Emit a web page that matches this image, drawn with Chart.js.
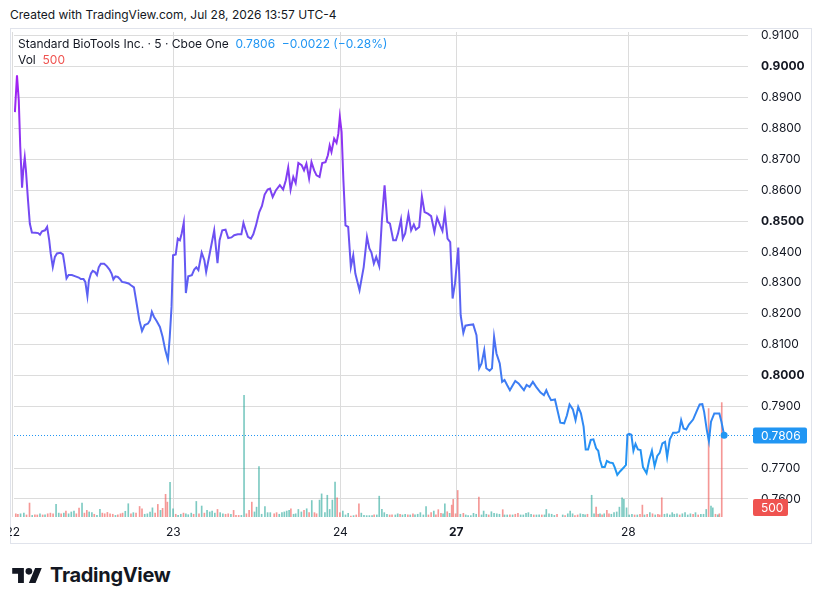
<!DOCTYPE html>
<html>
<head>
<meta charset="utf-8">
<title>Standard BioTools Inc. · 5 · Cboe One</title>
<script src="https://cdn.jsdelivr.net/npm/chart.js@4.4.1/dist/chart.umd.min.js"></script>
<style>
  html, body { margin: 0; padding: 0; background: #ffffff; }
  body { width: 822px; height: 604px; position: relative; overflow: hidden;
         font-family: Inter, "Noto Sans", Roboto, sans-serif; color: #131722; }
  #created { position: absolute; left: 10px; top: 7px; font-size: 12px; white-space: nowrap; }
  #frame { position: absolute; left: 10px; top: 28px; width: 800px; height: 514px; border: 1px solid #e0e3eb; }
  #myChart { position: absolute; left: 10px; top: 28px; }
  .legend { position: absolute; left: 18px; font-size: 12px; white-space: nowrap; }
  #legendTitle { top: 36px; }
  #legendVol { top: 52px; }
  .blue { color: #2196f3; }
  .red { color: #ef5350; }
  #footer { position: absolute; left: 12px; top: 563px; height: 24px; display: flex; align-items: center; }
  #footer span { font-weight: 700; font-size: 20px; margin-left: 8px; letter-spacing: -0.3px; color: #131722; }
</style>
</head>
<body>
<div id="created">Created with TradingView.com, Jul 28, 2026 13:57 UTC-4</div>
<div id="frame"></div>
<canvas id="myChart" width="802" height="517"></canvas>
<div class="legend" id="legendTitle">Standard BioTools Inc. · 5 · Cboe One&nbsp; <span class="blue">0.7806&nbsp; −0.0022 (−0.28%)</span></div>
<div class="legend" id="legendVol">Vol&nbsp; <span class="red">500</span></div>
<div id="footer">
  <svg width="30" height="15" viewBox="0 4 35.5 18"><path d="M14 22H7V11H0V4h14v18zM28 22h-8l7.5-18h8L28 22z" fill="#131722"/><circle cx="20" cy="8" r="4" fill="#131722"/></svg>
  <span>TradingView</span>
</div>
<script>
// day separators on the time axis (bar position) and their labels
const dayTicks = [-0.4, 53.4, 109.4, 148.2, 205.9];
const dayLabels = ['22', '23', '24', '27', '28'];
const priceTicks = [0.76, 0.77, 0.78, 0.79, 0.80, 0.81, 0.82, 0.83, 0.84, 0.85, 0.86, 0.87, 0.88, 0.89, 0.90, 0.91];

const lastPrice = 0.7806;
const lastVolume = 500;

// price line (bar position, price)
const priceX = [0.3,1.0,1.6,2.1,2.7,3.1,3.6,4.0,4.7,5.3,
  6.0,7.2,8.1,8.7,9.4,10.4,11.1,11.8,12.3,13.0,
  13.7,14.4,15.6,16.4,16.9,17.6,18.3,19.4,20.6,21.7,
  22.4,23.3,23.9,24.6,25.1,25.8,26.4,27.1,27.8,28.4,
  29.1,30.2,31.1,32.0,32.7,33.3,34.0,34.8,35.6,36.2,
  37.3,38.4,39.2,40.2,41.1,42.0,42.9,43.8,44.9,45.6,
  46.2,46.9,47.8,48.9,49.8,50.7,51.6,52.2,52.8,53.3,
  54.2,54.9,55.6,56.2,56.9,57.6,58.4,59.6,60.4,61.1,
  61.8,62.9,63.8,64.4,65.6,67.1,68.2,68.9,69.8,70.9,
  71.8,72.9,73.8,75.0,76.2,76.9,77.6,78.4,79.4,80.2,
  81.1,82.2,83.1,84.0,85.0,85.8,86.7,87.8,89.1,90.2,
  91.1,91.9,92.7,93.6,94.4,95.3,96.4,97.2,98.0,98.9,
  99.7,100.6,101.4,102.4,103.3,104.4,105.2,105.8,106.4,107.3,
  108.1,108.7,109.2,109.8,110.4,111.1,112.0,112.9,113.7,114.4,
  115.8,117.2,118.3,119.1,119.8,120.6,121.4,122.4,123.3,124.2,
  125.1,126.0,127.1,128.0,128.7,129.7,130.3,131.1,132.2,133.1,
  134.0,134.7,135.8,136.7,137.6,138.7,139.8,140.9,141.8,142.8,
  143.6,144.4,145.3,146.2,147.0,147.8,148.9,149.7,150.6,151.3,
  152.4,153.9,155.0,155.9,156.7,157.6,158.3,159.4,160.2,160.9,
  161.7,162.8,163.6,164.4,165.3,166.2,167.2,168.0,169.1,170.0,
  170.9,171.8,172.8,173.9,175.0,176.4,177.6,178.4,179.1,180.0,
  181.3,183.1,184.4,185.3,186.2,187.3,188.2,189.1,190.0,190.9,
  191.6,192.4,193.3,194.2,195.1,195.8,196.4,197.1,198.0,198.7,
  199.6,200.7,201.3,202.2,203.1,204.2,205.1,205.6,206.2,206.9,
  207.6,208.3,209.1,210.0,210.8,212.0,212.9,213.8,214.7,215.6,
  216.4,217.3,218.2,218.9,219.8,220.9,222.0,222.9,223.6,224.4,
  225.3,226.2,227.6,228.7,229.8,230.7,231.3,232.2,232.9,233.6,
  234.7,236.4,237.1,238.0];

const prices = [0.8853,0.8972,0.8891,0.8740,0.8608,0.8664,0.8706,0.8664,0.8567,0.8492,
  0.8463,0.8462,0.8461,0.8456,0.8467,0.8470,0.8481,0.8438,0.8395,0.8351,
  0.8384,0.8395,0.8397,0.8392,0.8362,0.8314,0.8325,0.8325,0.8321,0.8317,
  0.8312,0.8312,0.8303,0.8257,0.8308,0.8330,0.8339,0.8335,0.8325,0.8350,
  0.8362,0.8362,0.8354,0.8343,0.8330,0.8311,0.8321,0.8319,0.8311,0.8303,
  0.8301,0.8298,0.8292,0.8285,0.8233,0.8179,0.8144,0.8163,0.8168,0.8179,
  0.8206,0.8190,0.8176,0.8157,0.8125,0.8082,0.8050,0.8125,0.8222,0.8389,
  0.8392,0.8443,0.8438,0.8460,0.8495,0.8267,0.8321,0.8325,0.8343,0.8350,
  0.8341,0.8398,0.8373,0.8335,0.8395,0.8470,0.8364,0.8438,0.8470,0.8472,
  0.8445,0.8447,0.8454,0.8457,0.8457,0.8494,0.8472,0.8449,0.8443,0.8457,
  0.8486,0.8529,0.8549,0.8586,0.8602,0.8605,0.8578,0.8600,0.8616,0.8602,
  0.8632,0.8673,0.8602,0.8643,0.8623,0.8688,0.8681,0.8664,0.8686,0.8638,
  0.8691,0.8664,0.8648,0.8643,0.8688,0.8691,0.8713,0.8745,0.8724,0.8767,
  0.8753,0.8783,0.8837,0.8788,0.8632,0.8486,0.8481,0.8351,0.8389,0.8330,
  0.8276,0.8351,0.8449,0.8411,0.8398,0.8362,0.8384,0.8354,0.8503,0.8616,
  0.8497,0.8492,0.8438,0.8438,0.8460,0.8505,0.8443,0.8460,0.8522,0.8470,
  0.8489,0.8472,0.8481,0.8580,0.8529,0.8524,0.8516,0.8465,0.8511,0.8486,
  0.8468,0.8526,0.8443,0.8432,0.8249,0.8298,0.8414,0.8195,0.8138,0.8161,
  0.8163,0.8165,0.8130,0.8023,0.8039,0.8082,0.8023,0.8015,0.8023,0.8125,
  0.8071,0.8039,0.7979,0.7985,0.7968,0.7952,0.7969,0.7982,0.7974,0.7963,
  0.7952,0.7969,0.7963,0.7979,0.7963,0.7945,0.7936,0.7952,0.7936,0.7920,
  0.7922,0.7847,0.7845,0.7870,0.7906,0.7890,0.7855,0.7898,0.7877,0.7834,
  0.7760,0.7760,0.7791,0.7793,0.7764,0.7756,0.7726,0.7703,0.7703,0.7723,
  0.7718,0.7716,0.7703,0.7678,0.7689,0.7700,0.7710,0.7808,0.7811,0.7808,
  0.7756,0.7778,0.7760,0.7758,0.7703,0.7683,0.7726,0.7756,0.7706,0.7739,
  0.7749,0.7780,0.7785,0.7735,0.7793,0.7814,0.7814,0.7818,0.7855,0.7828,
  0.7825,0.7841,0.7857,0.7882,0.7906,0.7907,0.7882,0.7823,0.7787,0.7850,
  0.7877,0.7877,0.7850,0.7806];

// volume bars (bar position, shares, t = up / r = down)
const volX = [0.6,1.3,2.2,3.3,4.2,5.2,6.1,7.0,7.8,8.7,
  9.6,10.4,11.3,12.2,13.1,14.1,15.0,15.8,16.7,17.4,
  18.3,19.2,20.1,20.9,21.8,22.8,23.6,24.4,25.2,26.1,
  26.9,27.8,28.8,29.6,30.4,31.3,32.2,33.1,34.0,34.8,
  35.7,36.4,37.3,38.3,39.2,40.0,40.9,42.1,42.9,43.8,
  44.7,45.6,46.4,47.3,48.2,49.1,49.8,50.8,51.4,52.3,
  53.3,54.2,55.0,55.9,56.8,57.6,58.4,59.4,60.2,61.1,
  62.0,62.9,63.8,64.7,65.6,66.4,67.3,68.2,69.1,70.0,
  70.9,71.8,72.7,73.6,74.4,75.3,76.2,77.1,77.9,78.8,
  79.7,80.6,81.3,82.1,83.0,84.1,85.0,85.9,
  87.2,88.0,88.9,89.8,90.6,91.4,92.2,92.8,93.7,94.4,95.3,96.3,
  97.2,98.1,98.9,99.8,100.7,101.4,102.4,103.1,104.2,105.0,
  105.8,106.7,107.6,108.3,109.2,110.2,111.1,112.0,112.9,113.8,
  114.7,115.6,116.4,117.3,118.2,119.1,120.0,120.7,121.6,122.4,
  123.3,124.1,125.0,125.9,126.7,127.8,128.6,129.4,130.2,131.1,
  132.0,132.8,133.7,134.4,135.3,136.2,137.2,138.1,138.9,139.8,
  140.7,141.4,142.2,143.1,143.8,144.4,145.2,146.0,146.7,147.2,
  148.0,148.7,149.6,150.6,151.4,152.2,153.1,154.0,154.9,155.8,
  156.7,157.4,158.3,159.1,160.0,160.9,161.8,162.7,163.8,164.4,
  165.3,166.2,167.1,168.0,168.9,169.8,170.7,171.6,172.4,173.3,
  174.2,175.1,176.0,176.9,177.8,178.4,179.3,180.2,181.1,182.0,
  183.9,184.7,185.6,186.4,187.2,188.0,188.9,189.8,190.7,191.4,
  192.2,193.6,194.4,195.1,195.8,196.4,197.1,197.8,198.7,199.4,
  200.2,201.1,202.0,202.9,203.8,204.4,205.3,206.2,207.1,208.0,
  208.9,209.8,210.6,211.3,212.2,213.1,214.0,214.9,215.8,216.4,
  217.1,218.0,218.9,219.8,220.6,221.3,222.2,223.1,224.0,224.9,
  225.8,226.7,227.6,228.4,229.3,230.2,231.1,232.0,232.8,233.6,
  234.2,235.1,235.9,236.4,237.2];

const volumes = [14,12,14,17,9,61,7,9,9,14,
  9,9,14,17,14,55,17,14,17,26,
  14,22,26,14,39,61,17,29,22,19,
  12,7,33,17,14,20,14,12,7,9,
  14,17,25,58,14,19,17,46,36,12,
  14,22,40,17,55,29,38,99,65,152,
  36,12,7,12,17,14,10,17,12,68,
  14,48,17,29,22,26,17,33,19,14,
  12,14,12,29,7,7,7,532,14,29,
  65,22,43,220,12,46,19,19,
  14,19,12,19,22,26,29,36,12,14,33,22,
  29,36,19,72,19,14,74,101,19,95,
  33,74,153,84,19,26,9,16,4,6,
  9,58,17,7,6,6,6,9,9,91,
  33,19,12,9,9,9,14,12,9,12,
  9,9,14,9,12,19,9,46,9,19,
  26,9,32,16,14,58,23,16,52,77,
  14,116,12,16,9,6,6,16,12,87,
  9,26,12,9,23,16,14,12,32,9,
  9,9,9,12,16,9,9,16,19,12,
  9,9,9,9,9,33,14,12,7,12,
  9,6,14,26,14,6,9,14,12,9,
  12,95,14,43,12,14,9,14,29,14,
  12,19,22,43,84,77,40,9,12,9,
  9,12,52,9,12,19,14,9,12,9,
  84,12,14,9,19,12,14,9,14,19,
  9,14,12,19,9,12,12,33,474,48,
  40,12,9,14,500];

const volDir = 'rrttrrtrrt' + 'rtrrrttrtr' + 'tttrrtrrtt' + 'rttrrrrrtr' + 'rrttrtrrrt' +
  'tttrrtrrrt' + 'trttrtttrt' + 'rtrttttrtt' + 'rrtrrrttrr' + 'rttttttt' +
  'rrtttttrtttt' + 'rtrtrrtttt' + 'tttrrtttrt' + 'rrtttttrtt' + 'tttrrttrtt' +
  'rtrtttttrr' + 'trrrttrtrr' + 'rrtrtttttr' + 'tttrttttrt' + 'trtrrttttt' +
  'rttrtttttr' + 'trtttrrttt' + 'rttrrtrtrr' + 'tttttttttr' + 'trrtrtrtrr' +
  'rttttttrtt' + 'ttrtrtttrt' + 'trtrr';

const upColor = 'rgba(38, 166, 154, 0.6)';
const downColor = 'rgba(239, 83, 80, 0.6)';
const gridColor = '#dcdcdc';
const textColor = '#131722';

Chart.defaults.font.family = 'Inter, "Noto Sans", sans-serif';
Chart.defaults.font.size = 12;

function lineGradient(context) {
    const chart = context.chart;
    if (!chart.chartArea) return '#7b45f0';
    const y = chart.scales.y;
    const g = chart.ctx.createLinearGradient(0, y.getPixelForValue(0.90), 0, y.getPixelForValue(0.77));
    g.addColorStop(0, '#a61df2');
    g.addColorStop(1, '#2196f3');
    return g;
}

function fillRound(ctx, x, y, w, h, r, color) {
    ctx.beginPath();
    ctx.roundRect(x, y, w, h, r);
    ctx.fillStyle = color;
    ctx.fill();
}

const priceLinePlugin = {
    id: 'priceLine',
    beforeDatasetsDraw(chart) {
        const { ctx, chartArea, scales } = chart;
        const yy = Math.round(scales.y.getPixelForValue(lastPrice)) + 0.5;
        ctx.save();
        ctx.strokeStyle = '#2196f3';
        ctx.lineWidth = 1;
        ctx.setLineDash([1, 2]);
        ctx.beginPath();
        ctx.moveTo(chartArea.left, yy);
        ctx.lineTo(chartArea.right + 5, yy);
        ctx.stroke();
        ctx.restore();
    },
    afterDraw(chart) {
        const { ctx, chartArea, scales } = chart;
        const yy = Math.round(scales.y.getPixelForValue(lastPrice)) + 0.5;
        const x0 = chartArea.right + 5;
        ctx.save();
        ctx.font = '12px Inter, "Noto Sans", sans-serif';
        ctx.textBaseline = 'middle';
        ctx.textAlign = 'left';
        fillRound(ctx, x0, yy - 8, 54, 16, 2, '#2196f3');
        ctx.fillStyle = '#ffffff';
        ctx.fillText(lastPrice.toFixed(4), chartArea.right + 13, yy + 0.5);
        const vb = chartArea.bottom;
        fillRound(ctx, x0, vb - 18, 35, 17, 2, '#ef5350');
        ctx.fillStyle = '#ffffff';
        ctx.fillText(String(lastVolume), chartArea.right + 13, vb - 9);
        ctx.restore();
    }
};

const canvas = document.getElementById('myChart');
const myChart = new Chart(canvas, {
    data: {
        datasets: [
            {
                type: 'line',
                data: priceX.map((x, i) => ({ x: x, y: prices[i] })),
                yAxisID: 'y',
                borderColor: lineGradient,
                borderWidth: 2,
                tension: 0,
                pointRadius: (c) => c.dataIndex === prices.length - 1 ? 3.5 : 0,
                pointBorderWidth: 0,
                pointBackgroundColor: '#2196f3',
                order: 1
            },
            {
                type: 'bar',
                data: volX.map((x, i) => ({ x: x, y: volumes[i] })),
                yAxisID: 'v',
                backgroundColor: volDir.split('').map((d) => d === 't' ? upColor : downColor),
                barThickness: 1,
                order: 2
            }
        ]
    },
    options: {
        responsive: false,
        animation: false,
        devicePixelRatio: 1,
        events: [],
        layout: { padding: 0 },
        plugins: { legend: { display: false }, tooltip: { enabled: false } },
        scales: {
            x: {
                type: 'linear',
                position: 'bottom',
                offset: false,
                min: 0,
                max: 246,
                afterBuildTicks: (s) => { s.ticks = dayTicks.map((v) => ({ value: v })); },
                afterFit: (s) => { s.height = 28; s.paddingLeft = 0; s.paddingRight = 0; },
                grid: { color: gridColor, drawTicks: false, offset: false },
                border: { display: false },
                ticks: {
                    autoSkip: false,
                    maxRotation: 0,
                    padding: 8,
                    color: textColor,
                    font: (c) => ({ size: 12, weight: (c.tick && dayLabels[dayTicks.indexOf(c.tick.value)] === '27') ? 'bold' : 'normal' }),
                    callback: (v) => dayLabels[dayTicks.indexOf(v)]
                }
            },
            y: {
                type: 'linear',
                position: 'right',
                min: 0.75414,
                max: 0.91124,
                afterBuildTicks: (s) => { s.ticks = priceTicks.map((v) => ({ value: v })); },
                afterFit: (s) => { s.width = 64; s.paddingTop = 0; s.paddingBottom = 0; },
                grid: {
                    color: (c) => (c.tick && Math.abs(c.tick.value - 0.78) < 1e-6) ? 'rgba(0,0,0,0)' : gridColor,
                    drawTicks: false
                },
                border: { display: false },
                ticks: {
                    padding: 13,
                    color: textColor,
                    font: (c) => ({ size: 12, weight: (c.tick && Math.round(c.tick.value * 10000) % 500 === 0) ? 'bold' : 'normal' }),
                    callback: (v) => v.toFixed(4)
                }
            },
            v: { type: 'linear', display: false, min: 0, max: 2120 }
        }
    },
    plugins: [priceLinePlugin]
});
</script>
</body>
</html>
